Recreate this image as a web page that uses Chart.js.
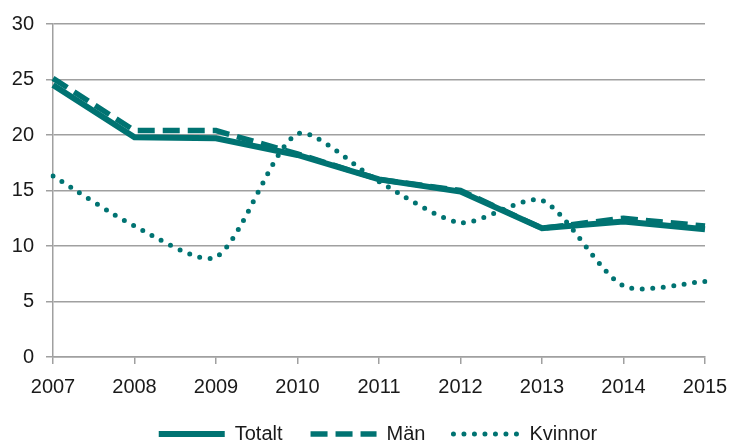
<!DOCTYPE html>
<html>
<head>
<meta charset="utf-8">
<script src="https://cdn.jsdelivr.net/npm/chart.js@4"></script>
<style>
  html, body { margin: 0; padding: 0; background: #fff; }
  #wrap { width: 731px; height: 442px; }
</style>
</head>
<body>
<div id="wrap"><canvas id="chart"></canvas></div>
<script>
/**
 * DATA
 */
const years = ["2007", "2008", "2009", "2010", "2011", "2012", "2013", "2014", "2015"];
const totalt = [24.5, 19.8, 19.7, 18.2, 16.0, 14.9, 11.6, 12.2, 11.5];
const man = [25.1, 20.4, 20.4, 18.3, 16.0, 15.0, 11.6, 12.5, 11.8];
const kvinnor = [16.3, 11.8, 9.0, 20.1, 15.8, 12.1, 14.1, 6.4, 6.8];

const teal = "#007372";
const gridGray = "#a0a0a0";

Chart.defaults.font.family = "'Liberation Sans', Arial, sans-serif";
Chart.defaults.font.size = 20;
Chart.defaults.color = "#1a1a1a";

const lineSet = (label, data, extra) => Object.assign({
  label: label,
  data: data,
  borderColor: teal,
  backgroundColor: teal,
  borderWidth: 6,
  pointRadius: 0,
  pointHoverRadius: 0,
  tension: 0,
  fill: false
}, extra);

// legend items built from the datasets themselves, so the dash pattern is kept
const legendLabels = (chart) => chart.data.datasets.map((ds, i) => ({
  text: ds.label,
  fillStyle: ds.borderColor,
  strokeStyle: ds.borderColor,
  lineWidth: ds.borderWidth,
  lineDash: ds.borderDash || [],
  lineCap: ds.borderCapStyle || "butt",
  pointStyle: "line",
  fontColor: "#1a1a1a",
  hidden: !chart.isDatasetVisible(i),
  datasetIndex: i
}));

// the legend in the original sits a bit right of centre
const legendShift = {
  id: "legendShift",
  afterLayout: (chart) => {
    chart.legend.left += 22;
    chart.legend.right += 22;
  }
};

new Chart(document.getElementById("chart"), {
  type: "line",
  data: {
    labels: years,
    datasets: [
      lineSet("Totalt", totalt, { borderWidth: 6 }),
      lineSet("Män", man, { borderDash: [17, 8], borderWidth: 5.5 }),
      lineSet("Kvinnor", kvinnor, {
        borderDash: [0, 10.5],
        borderWidth: 5,
        borderCapStyle: "round",
        tension: 0.25
      })
    ]
  },
  plugins: [legendShift],
  options: {
    responsive: true,
    maintainAspectRatio: false,
    animation: false,
    layout: { padding: { top: 16, right: 19, left: 0, bottom: -12 } },
    plugins: {
      tooltip: { enabled: false },
      legend: {
        position: "bottom",
        labels: {
          usePointStyle: true,
          pointStyleWidth: 66,
          boxHeight: 20,
          padding: 28,
          generateLabels: legendLabels
        }
      }
    },
    scales: {
      x: {
        offset: false,
        afterFit: (scale) => {
          scale.height = 39;
          scale.paddingRight = 26;
        },
        grid: {
          drawOnChartArea: false,
          color: gridGray,
          lineWidth: 1.5,
          tickLength: 7
        },
        border: { color: gridGray, width: 1.5 },
        ticks: { maxRotation: 0, padding: 11 }
      },
      y: {
        min: 0,
        max: 30,
        afterFit: (scale) => { scale.width = 53; },
        ticks: { stepSize: 5, padding: 12 },
        grid: {
          color: gridGray,
          lineWidth: 1.5,
          tickLength: 7
        },
        border: { color: gridGray, width: 1.5 }
      }
    }
  }
});
</script>
</body>
</html>
